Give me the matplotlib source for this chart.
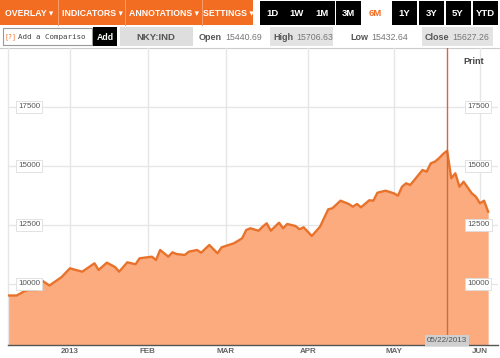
import matplotlib
matplotlib.use("Agg")
import matplotlib.pyplot as plt
from matplotlib.patches import Rectangle

# ---------------- data ----------------
day_index = [0, 2, 4, 5, 7, 8, 10, 13, 15, 18, 21, 22, 24, 26, 27, 29, 31, 32, 35, 36,
             37, 39, 40, 41, 43, 44, 46, 47, 49, 51, 52, 55, 57, 58, 59, 61, 62, 63, 64,
             66, 67, 68, 70, 71, 72, 74, 76, 78, 79, 81, 83, 84, 85, 86, 88, 89, 90, 92,
             94, 95, 96, 97, 98, 100, 101, 102, 103, 104, 105, 106, 107, 108, 109, 110,
             111, 113, 114, 115, 116, 117]
close = [9513, 9513, 9703, 9746, 9746, 10169, 9936, 10297, 10665, 10521, 10877, 10593,
         10903, 10720, 10521, 10919, 10835, 11089, 11157, 11017, 11441, 11157, 11343,
         11271, 11229, 11369, 11441, 11326, 11653, 11301, 11555, 11725, 11936, 12288,
         12360, 12258, 12428, 12572, 12258, 12597, 12360, 12542, 12458, 12318, 12403,
         12034, 12428, 13165, 13208, 13530, 13390, 13275, 13390, 13250, 13547, 13530,
         13869, 13953, 13843, 13742, 14123, 14267, 14195, 14619, 14831, 14758, 15114,
         15182, 15326, 15508, 15648, 14479, 14691, 14123, 14335, 13843, 13699, 13419,
         13530, 13064]
month_pos = [15, 34, 53, 73, 94, 115]
month_labels = ["2013", "FEB", "MAR", "APR", "MAY", "JUN"]
y_ticks = [10000, 12500, 15000, 17500]
marker_day = 107
marker_label = "05/22/2013"

menu_labels = ["OVERLAY \u25be", "INDICATORS \u25be", "ANNOTATIONS \u25be", "SETTINGS \u25be"]
range_labels = ["1D", "1W", "1M", "3M", "6M", "1Y", "3Y", "5Y", "YTD"]
ticker = "NKY:IND"
open_v, high_v, low_v, close_v = "15440.69", "15706.63", "15432.64", "15627.26"

# ---------------- style ----------------
ORANGE = "#f26c22"
FILL = "#fbab7d"
LINE = "#e8722c"
GRID = "#e6e6e6"
FONT = ["Liberation Sans", "DejaVu Sans"]
plt.rcParams["font.family"] = FONT

W, H = 500, 358
fig = plt.figure(figsize=(W / 100, H / 100), dpi=100)
fig.patch.set_facecolor("white")

# overlay axes in pixel coordinates for the toolbar
ov = fig.add_axes([0, 0, 1, 1], zorder=0)
ov.set_xlim(0, W)
ov.set_ylim(H, 0)
ov.axis("off")

# row 1: orange menu
ov.add_patch(Rectangle((0, 0), 253, 25, color=ORANGE, lw=0))
menu_edges = [0, 58, 125, 202, 253]
for i, lab in enumerate(menu_labels):
    x0, x1 = menu_edges[i], menu_edges[i + 1]
    if i > 0:
        ov.plot([x0, x0], [0, 25], color="#f79a66", lw=0.8)
    ov.text((x0 + x1) / 2 + 0.5, 13, lab, color="white", fontsize=6.3, fontweight="bold",
            ha="center", va="center")
range_centers = [272.5, 297, 322, 348, 375, 404, 431.5, 458, 485]
for c, lab in zip(range_centers, range_labels):
    if lab == "6M":
        ov.text(c, 13, lab, color=ORANGE, fontsize=6.8, fontweight="bold", ha="center", va="center")
    else:
        ov.add_patch(Rectangle((c - 12.5, 1), 25, 24, color="black", lw=0))
        ov.text(c, 13, lab, color="white", fontsize=6.8, fontweight="bold", ha="center", va="center")

# row 2
ov.add_patch(Rectangle((3, 28), 89, 17, facecolor="white", edgecolor="#999999", lw=0.8))
ov.text(4, 37, "[?]", color=ORANGE, fontsize=4.8, va="center", family="DejaVu Sans Mono")
ov.text(17.5, 37, "Add a Compariso", color="#444444", fontsize=5.4, va="center",
        family="DejaVu Sans Mono")
ov.add_patch(Rectangle((93, 27), 24, 19, color="black", lw=0))
ov.text(105, 37, "Add", color="white", fontsize=6.3, fontweight="bold", ha="center", va="center")
ov.add_patch(Rectangle((120, 27), 73, 19, color="#dedede", lw=0))
ov.text(156, 37, ticker, color="#555555", fontsize=6.8, fontweight="bold", ha="center", va="center")
ov.add_patch(Rectangle((270, 27), 63, 19, color="#e3e3e3", lw=0))
ov.add_patch(Rectangle((422, 27), 71, 19, color="#e3e3e3", lw=0))
for x, lab, val in [(199, "Open", open_v), (273, "High", high_v),
                    (350, "Low", low_v), (425, "Close", close_v)]:
    t = ov.text(x, 37, lab, color="#555555", fontsize=6.5, fontweight="bold", va="center")
    fig.canvas.draw()
    bb = t.get_window_extent()
    ov.text(x + bb.width + 3, 37, val, color="#777777", fontsize=6.3, va="center")
ov.plot([0, W], [47.5, 47.5], color="#cccccc", lw=0.8)

# ---------------- chart ----------------
ax = fig.add_axes([8 / W, 13 / H, 490 / W, 297 / H], zorder=1)
ax.patch.set_alpha(0)
ymin, ymax = 7415, 20000
ax.set_xlim(-0.1, 119.4)
ax.set_ylim(ymin, ymax)

for yv in y_ticks:
    ax.axhline(yv, color=GRID, lw=1, zorder=1)
for xv in month_pos:
    ax.axvline(xv, color=GRID, lw=1, zorder=1)

ax.fill_between(day_index, close, ymin, color=FILL, lw=0, zorder=2)
ax.plot(day_index, close, color=LINE, lw=1.7, zorder=3, solid_joinstyle="round")

ax.axvline(marker_day, color="#cf6a3c", lw=1, zorder=4)
ax.text(marker_day, ymin + 60, marker_label, fontsize=5.8, color="#555555", ha="center",
        va="bottom", zorder=5,
        bbox=dict(boxstyle="square,pad=0.25", facecolor="#cfcfcf", edgecolor="none"))

for yv in y_ticks:
    for xf in (0.043, 0.96):
        ax.text(xf, yv, str(yv), transform=ax.get_yaxis_transform(), fontsize=5.8,
                color="#555555", ha="center", va="center", zorder=6,
                bbox=dict(boxstyle="square,pad=0.25", facecolor="white",
                          edgecolor="#dddddd", lw=0.6))

ax.text(0.951, 0.955, "Print", transform=ax.transAxes, fontsize=6.5, fontweight="bold",
        color="#444444", ha="center", va="center")

ax.set_xticks(month_pos)
ax.set_xticklabels(month_labels, fontsize=5.8, color="#666666", fontweight="bold")
ax.set_yticks([])
ax.tick_params(axis="x", length=0, pad=2.5)
for s in ("top", "right"):
    ax.spines[s].set_visible(False)
ax.spines["left"].set_color(GRID)
ax.spines["left"].set_linewidth(1)
ax.spines["bottom"].set_color("#555555")
ax.spines["bottom"].set_linewidth(1)

fig.savefig("out.png", dpi=100, facecolor="white")
